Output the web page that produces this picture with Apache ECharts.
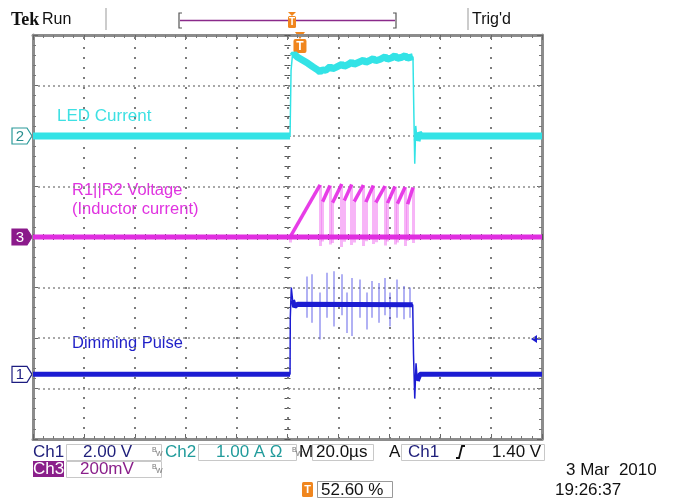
<!DOCTYPE html>
<html><head><meta charset="utf-8">
<script src="https://cdn.jsdelivr.net/npm/echarts@6/dist/echarts.min.js"></script>
<style>html,body{margin:0;padding:0;background:#fff}#c{width:673px;height:499px}</style>
</head><body><div id="c"></div>
<script>
// ---- data (time in µs, 20 µs/div; vertical in divisions, centre = 0) ----
const gridDivT = [-80, -60, -40, -20, 0, 20, 40, 60, 80];
const gridDivV = [-3, -2, -1, 0, 1, 2, 3];

const ch2T = [-100, 1.0, 1.4, 1.9, 2.6, 4.0, 6.0, 8.0, 10.0, 11.5, 12.8, 13.8, 15.0, 16.7, 17.7, 19.0, 21.3, 22.3, 24.0, 25.2, 26.2, 28.0, 29.8, 30.8, 32.5, 33.7, 34.7, 36.5, 38.3, 39.3, 41.0, 42.2, 43.2, 45.0, 46.2, 47.2, 48.5, 49.3, 49.6, 50.0, 50.4, 50.9, 51.6, 52.5, 100];
const ch2V = [2.0, 2.0, 3.3, 3.58, 3.62, 3.56, 3.50, 3.44, 3.37, 3.32, 3.27, 3.31, 3.30, 3.37, 3.33, 3.36, 3.42, 3.38, 3.42, 3.46, 3.42, 3.46, 3.50, 3.46, 3.50, 3.53, 3.49, 3.52, 3.57, 3.52, 3.55, 3.59, 3.54, 3.56, 3.59, 3.54, 3.56, 3.57, 2.6, 1.45, 2.2, 1.9, 2.05, 2.0, 2.0];
const ch2Bands = [[-100, 1.0], [1.9, 49.3], [50.9, 100]];

const ch3BaseT = [-100, 100];
const ch3BaseV = [0, 0];
const ch3OnT   = [1.0, 13.8, 17.7, 22.3, 26.2, 30.8, 34.7, 39.3, 43.2, 47.2];
const ch3OnV   = [0.0, 0.70, 0.68, 0.72, 0.70, 0.69, 0.68, 0.67, 0.66, 0.65];
const ch3PeakT = [12.8, 16.7, 21.3, 25.2, 29.8, 33.7, 38.3, 42.2, 46.2, 49.3];
const ch3PeakV = [1.03, 1.02, 1.05, 1.04, 1.03, 1.02, 1.01, 1.00, 0.99, 0.98];
const ch3RingV = [-0.18, -0.15, -0.2, -0.16, -0.18, -0.14, -0.17, -0.15, -0.18, -0.12];

const ch1T = [-100, 1.0, 1.1, 1.5, 2.0, 2.8, 4.0, 49.2, 49.5, 50.0, 50.5, 51.0, 52.0, 100];
const ch1V = [-2.72, -2.72, -1.6, -1.0, -1.25, -1.38, -1.33, -1.34, -2.3, -3.2, -2.5, -2.85, -2.72, -2.72];
const ch1Bands = [[-100, 1.0], [2.0, 49.2], [51.0, 100]];
const spikeT  = [7.5, 9.5, 12.8, 15.4, 18.0, 21.3, 23.3, 25.2, 28.5, 31.1, 33.1, 35.7, 38.3, 40.3, 42.9, 45.5, 48.1];
const spikeHi = [-0.78, -0.74, -1.1, -0.71, -0.68, -0.74, -1.1, -0.81, -0.84, -1.1, -0.87, -0.91, -0.81, -1.1, -0.84, -0.97, -1.0];
const spikeLo = [-1.6, -1.70, -2.03, -1.6, -1.77, -1.55, -1.90, -1.96, -1.6, -1.83, -1.6, -1.70, -1.55, -1.77, -1.6, -1.63, -1.6];

const ch1Offset = -2.72, ch2Offset = 2.0, ch3Offset = 0.0;
const trigLevel = -2.02;
const trigT = 4.9;

const traceLabels = ['LED Current', 'R1||R2 Voltage', '(Inductor current)', 'Dimming Pulse'];
const statusRow1 = ['Ch1', '2.00 V', 'Ch2', '1.00 A Ω', 'M', '20.0µs', 'A', 'Ch1', '1.40 V'];
const statusRow2 = ['Ch3', '200mV'];
const trigPosText = '52.60 %';
const dateText = ['3 Mar  2010', '19:26:37'];

// ---- build ----
const zip = (a, b) => a.map((v, i) => [v, b[i]]);
const CY = '#33e3e6', MG = '#e02ee0', BL = '#1c1cd2';
const FONT = '"Liberation Sans", Arial, sans-serif';

const chart = echarts.init(document.getElementById('c'), null, {renderer: 'canvas'});

const gridRect = {left: 33, top: 35, width: 509, height: 404};
const borderAxisX = (pos) => ({
  type: 'value', gridIndex: 0, min: -100, max: 100, interval: 20, position: pos,
  axisLine: {show: true, onZero: false, lineStyle: {color: '#8c8c8c', width: 3}},
  axisTick: {show: true, inside: true, length: 5, lineStyle: {color: '#666'}},
  minorTick: {show: true, splitNumber: 5, length: 3, lineStyle: {color: '#777'}},
  axisLabel: {show: false}, splitLine: {show: false}
});
const borderAxisY = (pos) => ({
  type: 'value', gridIndex: 0, min: -4, max: 4, interval: 1, position: pos,
  axisLine: {show: true, onZero: false, lineStyle: {color: '#8c8c8c', width: 3}},
  axisTick: {show: true, inside: true, length: 5, lineStyle: {color: '#666'}},
  minorTick: {show: true, splitNumber: 5, length: 3, lineStyle: {color: '#777'}},
  axisLabel: {show: false}, splitLine: {show: false}
});
const centerAxisX = (g, inside) => ({
  type: 'value', gridIndex: g, min: -100, max: 100, interval: 20,
  axisLine: {show: false, onZero: true},
  axisTick: {show: true, inside: inside, length: 3, lineStyle: {color: '#555'}},
  minorTick: {show: true, splitNumber: 5, length: 3, lineStyle: {color: '#555'}},
  axisLabel: {show: false}, splitLine: {show: false}
});
const centerAxisY = (g, inside) => ({
  type: 'value', gridIndex: g, min: -4, max: 4, interval: 1,
  axisLine: {show: false, onZero: true},
  axisTick: {show: true, inside: inside, length: 3, lineStyle: {color: '#555'}},
  minorTick: {show: true, splitNumber: 5, length: 3, lineStyle: {color: '#555'}},
  axisLabel: {show: false}, splitLine: {show: false}
});

const vGrid = gridDivT.map(t => ({coords: [[t, -4], [t, 4]]}));
const hGrid = gridDivV.map(v => ({coords: [[-100, v], [100, v]]}));
const rampLines = ch3OnT.map((t, i) => ({coords: [[t, ch3OnV[i]], [ch3PeakT[i], ch3PeakV[i]]]}));
const vertLines = [];
ch3PeakT.forEach((t, i) => {
  vertLines.push({coords: [[t, ch3PeakV[i]], [t, ch3RingV[i]]]});
  vertLines.push({coords: [[ch3OnT[i], ch3RingV[i] * 0.6], [ch3OnT[i], ch3OnV[i]]]});
});
const spikeLines = spikeT.map((t, i) => ({coords: [[t, spikeHi[i]], [t, spikeLo[i]]]}));

const lineS = (data, color, width) => ({type: 'line', xAxisIndex: 0, yAxisIndex: 0, data: data, symbol: 'none',
  silent: true, lineStyle: {color: color, width: width}});
const bandSeries = (T, V, bands, color, width) => bands.map(b =>
  lineS(zip(T, V).filter(p => p[0] >= b[0] && p[0] <= b[1]), color, width));
const linesS = (data, color, width, type) => ({type: 'lines', coordinateSystem: 'cartesian2d', xAxisIndex: 0, yAxisIndex: 0,
  data: data, silent: true, lineStyle: {color: color, width: width, opacity: 1, type: type || 'solid'}});

chart.setOption({
  animation: false,
  backgroundColor: '#fff',
  grid: [Object.assign({show: false}, gridRect), Object.assign({show: false}, gridRect), Object.assign({show: false}, gridRect)],
  xAxis: [borderAxisX('bottom'), borderAxisX('top'), centerAxisX(1, false), centerAxisX(2, true)],
  yAxis: [borderAxisY('left'), borderAxisY('right'), centerAxisY(1, false), centerAxisY(2, true)],
  series: [
    linesS(vGrid, '#7c7c7c', 2, [2, 8]),
    linesS(hGrid, '#8c8c8c', 1.6, [2, 3]),
    lineS(zip(ch2T, ch2V), CY, 1.5),
    ...bandSeries(ch2T, ch2V, ch2Bands, CY, 7),
    linesS(vertLines, 'rgba(240,120,240,0.55)', 3),
    lineS(zip(ch3BaseT, ch3BaseV), MG, 5),
    linesS(rampLines, 'rgba(228,40,228,0.9)', 3.5),
    linesS(spikeLines, 'rgba(80,80,230,0.6)', 1.5),
    lineS(zip(ch1T, ch1V), BL, 1.5),
    ...bandSeries(ch1T, ch1V, ch1Bands, BL, 5)
  ]
});

const px = (t, v) => chart.convertToPixel({gridIndex: 0}, [t, v]);
const g = [];
const txt = (x, y, s, fill, size, weight) => g.push({type: 'text', x: x, y: y, silent: true,
  style: {text: s, fill: fill, font: (weight || 'normal') + ' ' + size + 'px ' + FONT,
  textVerticalAlign: 'middle', textAlign: 'left'}});
const box = (x, y, w, h, stroke, fill) => g.push({type: 'rect', silent: true, shape: {x: x, y: y, width: w, height: h},
  style: {fill: fill || 'none', stroke: stroke || '#c8c8c8', lineWidth: 1}});
const line = (pts, stroke, w) => g.push({type: 'polyline', silent: true, shape: {points: pts}, style: {stroke: stroke, lineWidth: w || 1, fill: 'none'}});

// top bar
g.push({type: 'text', x: 11, y: 20, silent: true, style: {text: 'Tek', fill: '#111', font: 'bold 18px "Liberation Serif", serif', textVerticalAlign: 'middle'}});
txt(42, 20, 'Run', '#111', 16);
line([[106, 8], [106, 30]], '#999', 1);
line([[182, 13], [179, 13], [179, 28], [182, 28]], '#555', 1.2);
line([[393, 13], [396, 13], [396, 28], [393, 28]], '#555', 1.2);
line([[180, 20.5], [395, 20.5]], '#8a2a8a', 1.5);
g.push({type: 'polygon', silent: true, shape: {points: [[288, 12], [296, 12], [292, 16]]}, style: {fill: '#f0861e'}});
g.push({type: 'rect', silent: true, shape: {x: 288, y: 16, width: 8, height: 12, r: 1.5}, style: {fill: '#f0861e'}});
g.push({type: 'text', x: 292, y: 22.5, silent: true, style: {text: 'T', fill: '#fff', font: 'bold 10px ' + FONT, textAlign: 'center', textVerticalAlign: 'middle'}});
line([[468, 8], [468, 30]], '#999', 1);
txt(472, 20, "Trig'd", '#111', 16);

// trigger position marker at top of graticule
const tp = px(trigT, 4);
g.push({type: 'polygon', silent: true, shape: {points: [[tp[0] - 5, tp[1] - 3], [tp[0] + 5, tp[1] - 3], [tp[0], tp[1] + 4]]}, style: {fill: '#f0861e'}});
g.push({type: 'rect', silent: true, shape: {x: tp[0] - 6.5, y: tp[1] + 4, width: 13, height: 14, r: 2}, style: {fill: '#f0861e'}});
g.push({type: 'text', x: tp[0], y: tp[1] + 11.5, silent: true, style: {text: 'T', fill: '#fff', font: 'bold 12px ' + FONT, textAlign: 'center', textVerticalAlign: 'middle'}});

// trigger level arrow on right
const tl = px(100, trigLevel);
g.push({type: 'polygon', silent: true, shape: {points: [[tl[0] - 11, tl[1]], [tl[0] - 5, tl[1] - 4], [tl[0] - 5, tl[1] + 4]]}, style: {fill: BL}});
line([[tl[0] - 6, tl[1]], [tl[0] - 1, tl[1]]], BL, 1.5);

// channel ground markers
const marker = (v, label, stroke, fill, tcol) => {
  const y = px(-100, v)[1];
  g.push({type: 'polygon', silent: true, shape: {points: [[12, y - 8], [27, y - 8], [32, y], [27, y + 8], [12, y + 8]]},
    style: {fill: fill, stroke: stroke, lineWidth: 1.2}});
  g.push({type: 'text', x: 20, y: y + 0.5, silent: true, style: {text: label, fill: tcol, font: '15px ' + FONT, textAlign: 'center', textVerticalAlign: 'middle'}});
};
marker(ch2Offset, '2', '#2a9a9a', '#fff', '#2a8f8f');
marker(ch3Offset, '3', '#8b1a8b', '#8b1a8b', '#fff');
marker(ch1Offset, '1', '#1c1c80', '#fff', '#1c1c80');

// trace labels
txt(57, 116, traceLabels[0], '#3ee0e3', 17);
txt(72, 190, traceLabels[1], '#e033e0', 16.5);
txt(72, 209, traceLabels[2], '#e033e0', 16.5);
txt(72, 343, traceLabels[3], '#1f1fc8', 16.5);

// status rows
const NV = '#1e1e7a', TL = '#219b9b', PU = '#8a1f8a';
const FS = 17;
txt(33, 452, statusRow1[0], NV, FS);
box(66.5, 444.5, 95, 16);
txt(83, 452, statusRow1[1], NV, FS);
txt(152, 450, 'B', '#777', 7); txt(156, 454, 'W', '#777', 7);
txt(165, 452, statusRow1[2], TL, FS);
box(198.5, 444.5, 98, 16);
txt(216, 452, statusRow1[3], TL, FS);
txt(292, 450, 'B', '#777', 7); txt(296, 454, 'W', '#777', 7);
txt(299, 452, statusRow1[4], '#111', FS);
box(312.5, 444.5, 61, 16);
txt(316, 452, statusRow1[5], '#111', FS);
txt(389, 452, statusRow1[6], '#111', FS);
box(401.5, 444.5, 143, 16);
txt(408, 452, statusRow1[7], NV, FS);
line([[456, 458], [459, 458], [462, 446], [465, 446]], '#111', 1.8);
txt(492, 452, statusRow1[8], '#111', FS);

g.push({type: 'rect', silent: true, shape: {x: 33, y: 461, width: 31, height: 16}, style: {fill: PU}});
txt(33, 469, statusRow2[0], '#fff', FS);
box(66.5, 461.5, 95, 16);
txt(80, 469, statusRow2[1], PU, FS);
txt(152, 467, 'B', '#777', 7); txt(156, 471, 'W', '#777', 7);

g.push({type: 'rect', silent: true, shape: {x: 302, y: 482, width: 11, height: 15, r: 1.5}, style: {fill: '#f0861e'}});
g.push({type: 'text', x: 307.5, y: 489.5, silent: true, style: {text: 'T', fill: '#fff', font: 'bold 11px ' + FONT, textAlign: 'center', textVerticalAlign: 'middle'}});
box(317.5, 481.5, 75, 16, '#999');
txt(321, 490, trigPosText, '#111', FS);

txt(566, 470, dateText[0], '#111', FS);
txt(555, 490, dateText[1], '#111', FS);

chart.setOption({graphic: g});
</script>
</body></html>
